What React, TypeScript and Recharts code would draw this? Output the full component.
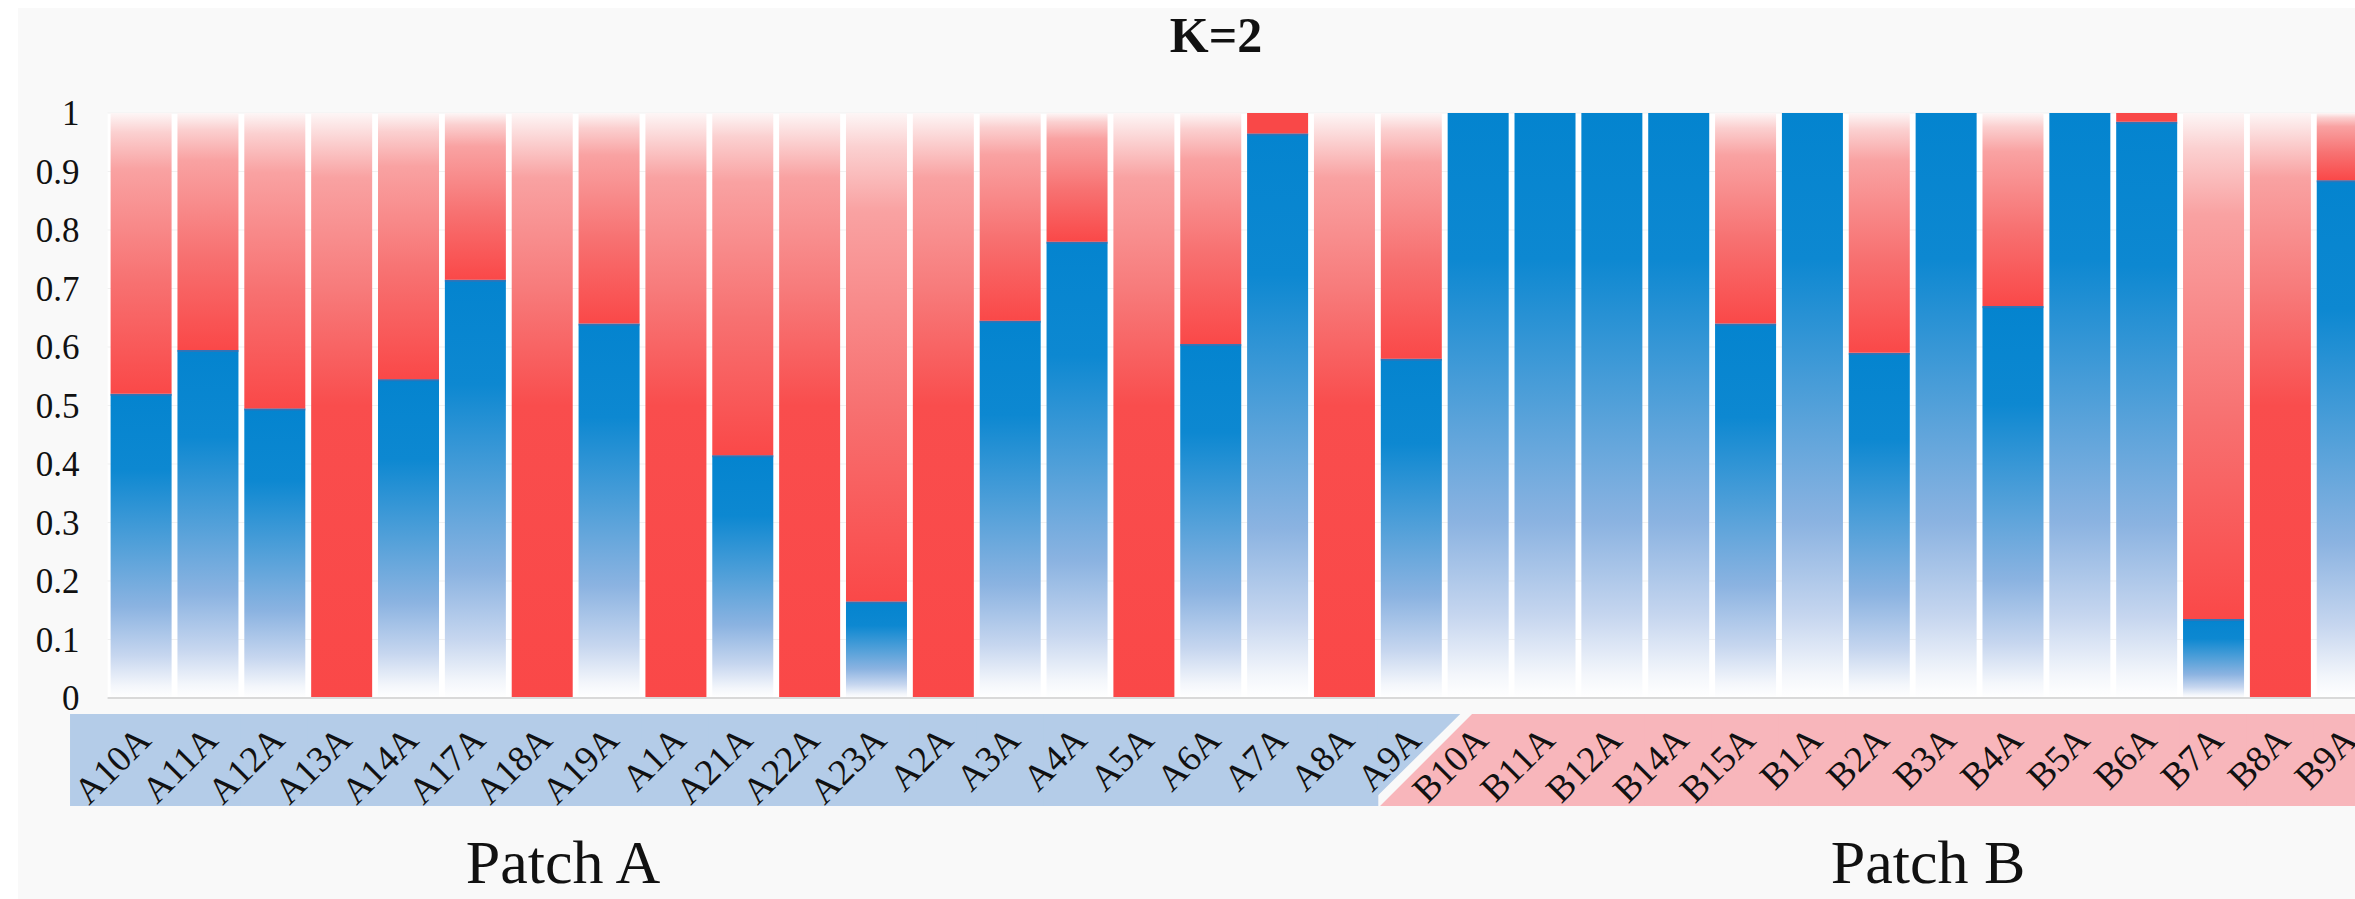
import React from "react";
import { BarChart, Bar, XAxis, YAxis, CartesianGrid, Cell } from "recharts";

// sample ids, in plotted order
const samples = [
  "A10A", "A11A", "A12A", "A13A", "A14A", "A17A", "A18A", "A19A", "A1A", "A21A",
  "A22A", "A23A", "A2A", "A3A", "A4A", "A5A", "A6A", "A7A", "A8A", "A9A",
  "B10A", "B11A", "B12A", "B14A", "B15A", "B1A", "B2A", "B3A", "B4A", "B5A",
  "B6A", "B7A", "B8A", "B9A",
];

// ancestry share of cluster 1 (blue, bottom)
const blueShare = [
  0.52, 0.595, 0.495, 0, 0.545, 0.715, 0, 0.64, 0, 0.415,
  0, 0.165, 0, 0.645, 0.78, 0, 0.605, 0.965, 0, 0.58,
  1, 1, 1, 1, 0.64, 1, 0.59, 1, 0.67, 1,
  0.985, 0.135, 0, 0.885,
];

// ancestry share of cluster 2 (red, top)
const redShare = [
  0.48, 0.405, 0.505, 1, 0.455, 0.285, 1, 0.36, 1, 0.585,
  1, 0.835, 1, 0.355, 0.22, 1, 0.395, 0.035, 1, 0.42,
  0, 0, 0, 0, 0.36, 0, 0.41, 0, 0.33, 0,
  0.015, 0.865, 1, 0.115,
];

const yTicks = [0, 0.1, 0.2, 0.3, 0.4, 0.5, 0.6, 0.7, 0.8, 0.9, 1];

const data = samples.map((name, i) => ({ name, blue: blueShare[i], red: redShare[i] }));

const SERIF = "'Liberation Serif', 'Times New Roman', serif";
const CHART_W = 2400;
const CHART_H = 899;
const PLOT_LEFT = 107.6;
const PLOT_W = 2273;
const PLOT_TOP = 113;
const PLOT_BOTTOM = 698;
const PITCH = PLOT_W / samples.length;
const HALF = PITCH / 2;
const BAND_H = 92;
const BAND_BLUE = "#b4cce8";
const BAND_PINK = "#f8b6bb";

const redFill = (v: number) => {
  if (v >= 0.999) return "url(#redFull)";
  if (v < 0.05) return "#f94848";
  return "url(#redGrad)";
};

// blue segment with the thin dark seam on its top edge
const BlueShape = (props: any) => {
  const { x, y, width, height, fill } = props;
  if (!height || height <= 0) return null;
  return (
    <g>
      <rect x={x} y={y} width={width} height={height} fill={fill} />
      {height < PLOT_BOTTOM - PLOT_TOP - 1 && (
        <rect x={x} y={y} width={width} height={2} fill="#3f6fb0" opacity={0.75} />
      )}
    </g>
  );
};

const SampleTick = (props: any) => {
  const { x, y, payload } = props;
  const idx = samples.indexOf(payload.value);
  const isA = String(payload.value).startsWith("A");
  const top = y;
  const bot = y + BAND_H;
  let band: React.ReactNode;
  if (idx === 0) {
    band = <rect x={x - 71} y={top} width={71 + HALF + 0.5} height={BAND_H} fill={BAND_BLUE} />;
  } else if (isA && !String(samples[idx + 1] || "").startsWith("A")) {
    band = (
      <polygon
        points={`${x - HALF - 0.5},${top} ${x + 49},${top} ${x - 44},${bot} ${x - HALF - 0.5},${bot}`}
        fill={BAND_BLUE}
      />
    );
  } else if (!isA && String(samples[idx - 1] || "").startsWith("A")) {
    band = (
      <polygon
        points={`${x - 6},${top} ${x + HALF + 0.5},${top} ${x + HALF + 0.5},${bot} ${x - 98},${bot}`}
        fill={BAND_PINK}
      />
    );
  } else {
    const w = idx === samples.length - 1 ? PITCH + 60 : PITCH + 1;
    band = <rect x={x - HALF - 0.5} y={top} width={w} height={BAND_H} fill={isA ? BAND_BLUE : BAND_PINK} />;
  }
  const ax = x + 12;
  const ay = y + 28;
  return (
    <g>
      {band}
      <text
        x={ax}
        y={ay}
        transform={`rotate(-45 ${ax} ${ay})`}
        textAnchor="end"
        fontFamily={SERIF}
        fontSize={37}
        fill="#111"
      >
        {payload.value}
      </text>
    </g>
  );
};

export default function App() {
  return (
    <div
      style={{
        position: "fixed",
        left: 0,
        top: 0,
        width: 2355,
        height: 899,
        overflow: "hidden",
        background: "#ffffff",
      }}
    >
      <div style={{ position: "absolute", left: 18, top: 8, right: 0, bottom: 0, background: "#f9f9f9" }} />
      <div
        style={{
          position: "absolute",
          left: 1016,
          top: 10,
          width: 400,
          textAlign: "center",
          fontFamily: SERIF,
          fontWeight: "bold",
          fontSize: 50,
          lineHeight: "50px",
          color: "#111",
        }}
      >
        K=2
      </div>
      <div style={{ position: "absolute", left: 0, top: 0 }}>
        <BarChart
          width={CHART_W}
          height={CHART_H}
          data={data}
          barSize={61}
          margin={{ top: PLOT_TOP, right: CHART_W - PLOT_LEFT - PLOT_W, bottom: 0, left: 0 }}
        >
          <defs>
            <linearGradient id="blueGrad" x1="0" y1="0" x2="0" y2="1">
              <stop offset="0" stopColor="#0484cf" />
              <stop offset="0.25" stopColor="#0d88d1" />
              <stop offset="0.5" stopColor="#52a0d9" />
              <stop offset="0.7" stopColor="#8bb3e1" />
              <stop offset="0.86" stopColor="#c6d6ef" />
              <stop offset="0.96" stopColor="#f3f6fb" />
              <stop offset="1" stopColor="#ffffff" />
            </linearGradient>
            <linearGradient id="redGrad" x1="0" y1="0" x2="0" y2="1">
              <stop offset="0" stopColor="#fdf6f6" />
              <stop offset="0.07" stopColor="#fbd0d0" />
              <stop offset="0.2" stopColor="#f9a2a2" />
              <stop offset="0.6" stopColor="#f77171" />
              <stop offset="1" stopColor="#fa4848" />
            </linearGradient>
            <linearGradient id="redFull" x1="0" y1="0" x2="0" y2="1">
              <stop offset="0" stopColor="#fdf6f6" />
              <stop offset="0.05" stopColor="#fbcfcf" />
              <stop offset="0.11" stopColor="#f9a2a2" />
              <stop offset="0.3" stopColor="#f77b7b" />
              <stop offset="0.5" stopColor="#f94d4d" />
              <stop offset="1" stopColor="#fa4848" />
            </linearGradient>
          </defs>
          <CartesianGrid vertical={false} stroke="#f1f1f1" fill="#ffffff" />
          <XAxis
            dataKey="name"
            interval={0}
            height={CHART_H - PLOT_BOTTOM}
            tickSize={0}
            tickMargin={16}
            axisLine={{ stroke: "#d9d9d9", strokeWidth: 2 }}
            tickLine={false}
            tick={<SampleTick />}
          />
          <YAxis
            type="number"
            domain={[0, 1]}
            ticks={yTicks}
            width={PLOT_LEFT}
            tickSize={0}
            tickMargin={28}
            axisLine={false}
            tickLine={false}
            tick={{ fill: "#111", fontSize: 35, fontFamily: SERIF }}
          />
          <Bar dataKey="blue" stackId="k" isAnimationActive={false} shape={<BlueShape />}>
            {data.map((d) => (
              <Cell key={`b-${d.name}`} fill="url(#blueGrad)" />
            ))}
          </Bar>
          <Bar dataKey="red" stackId="k" isAnimationActive={false}>
            {data.map((d) => (
              <Cell key={`r-${d.name}`} fill={redFill(d.red)} />
            ))}
          </Bar>
        </BarChart>
      </div>
      <div
        style={{
          position: "absolute",
          left: 363,
          top: 835,
          width: 400,
          textAlign: "center",
          fontFamily: SERIF,
          fontSize: 62,
          lineHeight: "54px",
          color: "#111",
        }}
      >
        Patch A
      </div>
      <div
        style={{
          position: "absolute",
          left: 1728,
          top: 835,
          width: 400,
          textAlign: "center",
          fontFamily: SERIF,
          fontSize: 62,
          lineHeight: "54px",
          color: "#111",
        }}
      >
        Patch B
      </div>
    </div>
  );
}
